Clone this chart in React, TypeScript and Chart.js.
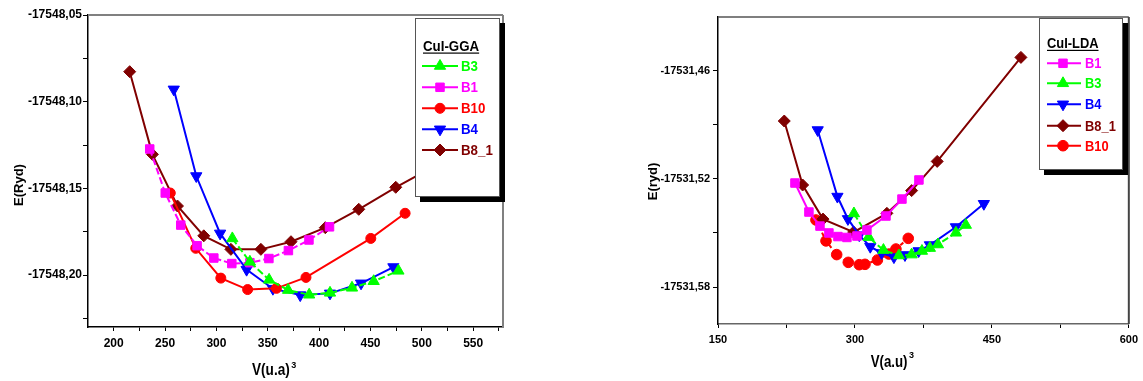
import React, { useEffect, useRef } from "react";
import { Chart, registerables } from "chart.js";
Chart.register(...registerables);

const FONT = "'Liberation Sans', Arial, Helvetica, sans-serif";

// ---------- Left chart: CuI-GGA ----------
const ggaB3V = [315.5, 332.6, 351.3, 369.8, 390.3, 410.6, 432.0, 453.1, 477.2];
const ggaB3E = [-17548.1789, -17548.1924, -17548.2028, -17548.2087, -17548.2114, -17548.2103, -17548.2074, -17548.2036, -17548.1976];
const ggaB1V = [235.1, 250.2, 265.3, 281.2, 297.5, 315.0, 332.6, 351.1, 370.1, 390.1, 410.1];
const ggaB1E = [-17548.1273, -17548.1527, -17548.1712, -17548.1831, -17548.1902, -17548.1934, -17548.1929, -17548.1905, -17548.1859, -17548.1798, -17548.1722];
const ggaB10V = [255.1, 279.9, 304.3, 330.4, 358.4, 387.2, 450.3, 483.7];
const ggaB10E = [-17548.1527, -17548.1846, -17548.2018, -17548.2084, -17548.2077, -17548.2014, -17548.1789, -17548.1644];
const ggaB4V = [258.5, 280.4, 303.6, 329.4, 355.0, 381.6, 410.6, 440.8, 472.3];
const ggaB4E = [-17548.0929, -17548.1429, -17548.176, -17548.1969, -17548.2079, -17548.2116, -17548.2106, -17548.2048, -17548.1954];
const ggaB81V = [215.6, 237.7, 262.1, 287.7, 314.1, 343.3, 372.6, 406.0, 438.6, 474.6, 515.9, 564.6];
const ggaB81E = [-17548.0827, -17548.1304, -17548.1602, -17548.1774, -17548.1852, -17548.1852, -17548.1808, -17548.1727, -17548.1621, -17548.1494, -17548.136, -17548.1227];

const ggaXMajor = [200, 250, 300, 350, 400, 450, 500, 550];
const ggaXMinor = [225, 275, 325, 375, 425, 475, 525, 575];
const ggaYMajor = [-17548.2, -17548.15, -17548.1, -17548.05];
const ggaYMinor = [-17548.225, -17548.175, -17548.125, -17548.075];

// ---------- Right chart: CuI-LDA ----------
const ldaB1V = [234.3, 249.6, 261.7, 271.5, 281.4, 291.2, 302.2, 313.1, 334.0, 351.5, 370.1];
const ldaB1E = [-17531.5223, -17531.5384, -17531.5462, -17531.55, -17531.552, -17531.5525, -17531.5517, -17531.5484, -17531.5406, -17531.5312, -17531.5206];
const ldaB3V = [298.9, 315.0, 331.2, 348.2, 362.1, 373.4, 382.1, 390.9, 410.6, 421.5];
const ldaB3E = [-17531.5392, -17531.5523, -17531.5595, -17531.5625, -17531.562, -17531.56, -17531.5584, -17531.5564, -17531.5499, -17531.5456];
const ldaB4V = [259.2, 280.8, 292.3, 304.7, 316.8, 329.2, 342.7, 354.8, 369.8, 382.1, 410.6, 441.2];
const ldaB4E = [-17531.4929, -17531.5298, -17531.5422, -17531.5512, -17531.5576, -17531.5611, -17531.5634, -17531.5622, -17531.56, -17531.5567, -17531.5467, -17531.5338];
const ldaB81V = [222.6, 242.7, 265.0, 298.6, 335.0, 362.1, 390.1, 481.8];
const ldaB81E = [-17531.4879, -17531.5234, -17531.5423, -17531.5495, -17531.5391, -17531.5265, -17531.5103, -17531.4526];
const ldaB10V = [257.3, 268.3, 280.0, 292.7, 304.7, 311.0, 324.6, 337.2, 344.9, 358.4];
const ldaB10E = [-17531.5428, -17531.5544, -17531.562, -17531.5663, -17531.5676, -17531.5674, -17531.565, -17531.5617, -17531.5589, -17531.553];

const ldaXMajor = [150, 300, 450, 600];
const ldaXMinor = [225, 375, 525];
const ldaYMajor = [-17531.58, -17531.52, -17531.46];
const ldaYMinor = [-17531.55, -17531.49];

// ---------- styles ----------
const C_GREEN = "#00ff00";
const C_MAGENTA = "#ff00ff";
const C_RED = "#ff0000";
const C_BLUE = "#0000ff";
const C_BROWN = "#800000";

type Series = {
  label: string;
  v: number[];
  e: number[];
  color: string;
  style: string;
  rot: number;
  radius: number;
  dash: number[];
};

const ggaSeries: Series[] = [
  { label: "B3", v: ggaB3V, e: ggaB3E, color: C_GREEN, style: "triangle", rot: 0, radius: 6.5, dash: [7, 3] },
  { label: "B1", v: ggaB1V, e: ggaB1E, color: C_MAGENTA, style: "rect", rot: 0, radius: 6, dash: [7, 3] },
  { label: "B10", v: ggaB10V, e: ggaB10E, color: C_RED, style: "circle", rot: 0, radius: 5, dash: [] },
  { label: "B4", v: ggaB4V, e: ggaB4E, color: C_BLUE, style: "triangle", rot: 180, radius: 6.5, dash: [] },
  { label: "B8_1", v: ggaB81V, e: ggaB81E, color: C_BROWN, style: "rectRot", rot: 0, radius: 6, dash: [] },
];

const ldaSeries: Series[] = [
  { label: "B1", v: ldaB1V, e: ldaB1E, color: C_MAGENTA, style: "rect", rot: 0, radius: 6, dash: [] },
  { label: "B3", v: ldaB3V, e: ldaB3E, color: C_GREEN, style: "triangle", rot: 0, radius: 6.5, dash: [7, 3] },
  { label: "B4", v: ldaB4V, e: ldaB4E, color: C_BLUE, style: "triangle", rot: 180, radius: 6.5, dash: [] },
  { label: "B8_1", v: ldaB81V, e: ldaB81E, color: C_BROWN, style: "rectRot", rot: 0, radius: 6, dash: [] },
  { label: "B10", v: ldaB10V, e: ldaB10E, color: C_RED, style: "circle", rot: 0, radius: 5.3, dash: [4, 3] },
];

function drawMarker(ctx: CanvasRenderingContext2D, style: string, rot: number, r: number, x: number, y: number) {
  ctx.beginPath();
  if (style === "circle") {
    ctx.arc(x, y, r, 0, Math.PI * 2);
  } else if (style === "rect") {
    const s = r * Math.SQRT1_2;
    ctx.rect(x - s, y - s, 2 * s, 2 * s);
  } else if (style === "rectRot") {
    ctx.moveTo(x - r, y);
    ctx.lineTo(x, y - r);
    ctx.lineTo(x + r, y);
    ctx.lineTo(x, y + r);
    ctx.closePath();
  } else {
    let a = (rot * Math.PI) / 180;
    for (let k = 0; k < 3; k++) {
      const px = x + Math.sin(a) * r;
      const py = y - Math.cos(a) * r;
      if (k === 0) ctx.moveTo(px, py);
      else ctx.lineTo(px, py);
      a += (2 * Math.PI) / 3;
    }
    ctx.closePath();
  }
  ctx.fill();
  ctx.stroke();
}

function drawText(ctx: CanvasRenderingContext2D, text: string, x: number, y: number, size: number, sx: number, color: string, align: CanvasTextAlign = "left") {
  ctx.save();
  ctx.translate(x, y);
  ctx.scale(sx, 1);
  ctx.font = `bold ${size}px ${FONT}`;
  ctx.fillStyle = color;
  ctx.textAlign = align;
  ctx.textBaseline = "alphabetic";
  ctx.fillText(text, 0, 0);
  const w = ctx.measureText(text).width * sx;
  ctx.restore();
  return w;
}

const decorPlugin = {
  id: "decor",
  afterDraw(chart: any, _args: any, o: any) {
    const ctx: CanvasRenderingContext2D = chart.ctx;
    const a = chart.chartArea;
    ctx.save();
    // top and right frame
    ctx.setLineDash([]);
    ctx.strokeStyle = o.frame.topColor;
    ctx.lineWidth = o.frame.topWidth;
    ctx.beginPath();
    ctx.moveTo(a.left, a.top);
    ctx.lineTo(a.right, a.top);
    ctx.stroke();
    ctx.strokeStyle = o.frame.rightColor;
    ctx.lineWidth = o.frame.rightWidth;
    ctx.beginPath();
    ctx.moveTo(a.right, a.top);
    ctx.lineTo(a.right, a.bottom);
    ctx.stroke();

    // axis titles
    const xt = o.xTitle;
    const w = drawText(ctx, xt.text, xt.x, xt.y, xt.size, xt.scale, "#000");
    drawText(ctx, xt.sup, xt.x + w + xt.supGap, xt.supY, xt.supSize, 1, "#000");
    const yt = o.yTitle;
    ctx.save();
    ctx.translate(yt.x, yt.y);
    ctx.rotate(-Math.PI / 2);
    drawText(ctx, yt.text, 0, 0, yt.size, yt.scale, "#000", "center");
    ctx.restore();

    // legend
    const L = o.legend;
    ctx.fillStyle = "#000";
    ctx.fillRect(L.x + L.shadow, L.y + L.shadow, L.w, L.h);
    ctx.fillStyle = "#fff";
    ctx.fillRect(L.x, L.y, L.w, L.h);
    ctx.strokeStyle = "#555";
    ctx.lineWidth = 1;
    ctx.strokeRect(L.x + 0.5, L.y + 0.5, L.w - 1, L.h - 1);

    const tw = drawText(ctx, L.title, L.titleX, L.titleY, L.size, L.scale, "#000");
    ctx.fillStyle = "#000";
    ctx.fillRect(L.titleX, L.titleY + 1.5, tw, 1.2);

    const series: Series[] = o.series;
    series.forEach((s, i) => {
      const cy = L.rows[i];
      ctx.strokeStyle = s.color;
      ctx.fillStyle = s.color;
      ctx.lineWidth = 2;
      ctx.beginPath();
      ctx.moveTo(L.lineX1, cy);
      ctx.lineTo(L.lineX2, cy);
      ctx.stroke();
      ctx.lineWidth = 1;
      drawMarker(ctx, s.style, s.rot, s.radius, L.markX, cy);
      drawText(ctx, s.label, L.labelX, cy + 0.358 * L.size, L.size, L.scale, s.color);
    });
    ctx.restore();
  },
};

function buildDatasets(series: Series[]) {
  return series.map((s) => ({
    label: s.label,
    data: s.v.map((x, i) => ({ x, y: s.e[i] })),
    borderColor: s.color,
    backgroundColor: s.color,
    pointBackgroundColor: s.color,
    pointBorderColor: s.color,
    pointStyle: s.style,
    pointRotation: s.rot,
    pointRadius: s.radius,
    pointBorderWidth: 1,
    borderWidth: 2,
    borderDash: s.dash,
    tension: 0,
    fill: false,
  }));
}

const isIn = (arr: number[], v: number) => arr.some((m) => Math.abs(m - v) < 1e-6);

function makeConfig(p: any): any {
  const xTicks = [...p.xMajor, ...p.xMinor].sort((a, b) => a - b);
  const yTicks = [...p.yMajor, ...p.yMinor].sort((a, b) => a - b);
  return {
    type: "line",
    data: { datasets: buildDatasets(p.series) },
    options: {
      responsive: false,
      animation: false,
      devicePixelRatio: 1,
      layout: { padding: { left: 0, top: p.top, right: p.right, bottom: 0 } },
      plugins: {
        legend: { display: false },
        tooltip: { enabled: false },
        decor: { ...p.decor, series: p.series },
      },
      scales: {
        x: {
          type: "linear",
          min: p.xMin,
          max: p.xMax,
          afterFit: (s: any) => {
            s.height = p.xAxisH;
          },
          afterBuildTicks: (s: any) => {
            s.ticks = xTicks.map((v) => ({ value: v }));
          },
          ticks: {
            autoSkip: false,
            maxRotation: 0,
            padding: p.xPad,
            color: "#000",
            font: { family: FONT, weight: "bold", size: p.tickSize },
            callback: (v: number) => (isIn(p.xMajor, v) ? String(Math.round(v)) : ""),
          },
          grid: { drawOnChartArea: false, drawTicks: true, tickLength: 4, tickColor: "#000", color: "#000" },
          border: { display: true, color: p.xBorder, width: 1.5 },
        },
        y: {
          type: "linear",
          min: p.yMin,
          max: p.yMax,
          afterFit: (s: any) => {
            s.width = p.yAxisW;
          },
          afterBuildTicks: (s: any) => {
            s.ticks = yTicks.map((v) => ({ value: v }));
          },
          ticks: {
            autoSkip: false,
            padding: p.yPad,
            color: "#000",
            font: { family: FONT, weight: "bold", size: p.tickSize },
            callback: (v: number) => (isIn(p.yMajor, v) ? v.toFixed(2).replace(".", ",") : ""),
          },
          grid: { drawOnChartArea: false, drawTicks: true, tickLength: 5, tickColor: "#000", color: "#000" },
          border: { display: true, color: "#000", width: 1.5 },
        },
      },
    },
    plugins: [decorPlugin],
  };
}

const leftConfig = () =>
  makeConfig({
    series: ggaSeries,
    xMajor: ggaXMajor,
    xMinor: ggaXMinor,
    yMajor: ggaYMajor,
    yMinor: ggaYMinor,
    xMin: 175,
    xMax: 579,
    yMin: -17548.23,
    yMax: -17548.05,
    top: 15,
    right: 67,
    xAxisH: 54,
    yAxisW: 88,
    xPad: 5,
    yPad: 1,
    tickSize: 12,
    xBorder: "#000",
    decor: {
      frame: { topColor: "#808080", topWidth: 2, rightColor: "#808080", rightWidth: 2 },
      xTitle: { text: "V(u.a)", x: 252, y: 375, size: 17, scale: 0.8, sup: "3", supGap: 1.5, supY: 367.5, supSize: 9 },
      yTitle: { text: "E(Ryd)", x: 22.5, y: 185, size: 13, scale: 1 },
      legend: {
        x: 415, y: 18, w: 85, h: 179, shadow: 5,
        title: "CuI-GGA", titleX: 423, titleY: 51, size: 14, scale: 0.95,
        lineX1: 422, lineX2: 458, markX: 440, labelX: 461,
        rows: [66, 87.3, 108.3, 129.3, 150],
      },
    },
  });

const rightConfig = () =>
  makeConfig({
    series: ldaSeries,
    xMajor: ldaXMajor,
    xMinor: ldaXMinor,
    yMajor: ldaYMajor,
    yMinor: ldaYMinor,
    xMin: 150,
    xMax: 600,
    yMin: -17531.6005,
    yMax: -17531.4302,
    top: 17,
    right: 14,
    xAxisH: 57,
    yAxisW: 148,
    xPad: 5,
    yPad: 3,
    tickSize: 11,
    xBorder: "#666",
    decor: {
      frame: { topColor: "#555", topWidth: 1.5, rightColor: "#444", rightWidth: 2 },
      xTitle: { text: "V(a.u)", x: 300.7, y: 366.7, size: 17, scale: 0.78, sup: "3", supGap: 1.5, supY: 357.7, supSize: 9 },
      yTitle: { text: "E(ryd)", x: 87, y: 181.5, size: 13, scale: 1 },
      legend: {
        x: 469, y: 18, w: 84, h: 152, shadow: 5,
        title: "CuI-LDA", titleX: 477, titleY: 48.3, size: 14, scale: 0.92,
        lineX1: 477, lineX2: 511, markX: 493, labelX: 515,
        rows: [63.3, 83.3, 104.3, 125.7, 145.7],
      },
    },
  });

function ChartCanvas({ make, left, width, height }: { make: () => any; left: number; width: number; height: number }) {
  const ref = useRef<HTMLCanvasElement | null>(null);
  useEffect(() => {
    if (!ref.current) return;
    const chart = new Chart(ref.current, make());
    return () => chart.destroy();
  }, []);
  return (
    <canvas
      ref={ref}
      width={width}
      height={height}
      style={{ position: "absolute", left, top: 0, width, height, display: "block" }}
    />
  );
}

export default function App() {
  return (
    <div style={{ position: "absolute", left: 0, top: 0, width: 1143, height: 381, background: "#fff", overflow: "hidden" }}>
      <ChartCanvas make={leftConfig} left={0} width={570} height={381} />
      <ChartCanvas make={rightConfig} left={570} width={573} height={381} />
    </div>
  );
}
